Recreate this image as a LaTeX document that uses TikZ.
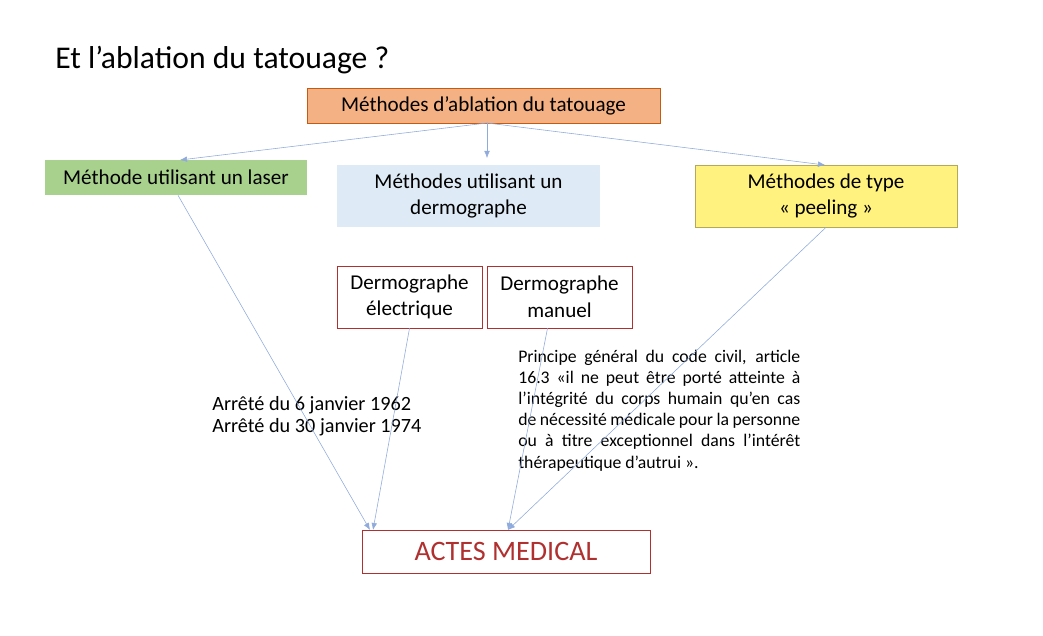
\documentclass[tikz,border=0pt]{standalone}
\usepackage{fontspec}
\setmainfont{Carlito}
\usetikzlibrary{arrows.meta,positioning}
\definecolor{orangefill}{HTML}{F4B183}
\definecolor{orangeline}{HTML}{C55A11}
\definecolor{greenfill}{HTML}{A9D18E}
\definecolor{bluefill}{HTML}{DEEBF7}
\definecolor{yellowfill}{HTML}{FFF27F}
\definecolor{redline}{HTML}{B03030}
\definecolor{arrowblue}{HTML}{8FAADC}
\begin{document}
\begin{tikzpicture}[
  x=0.025cm, y=-0.025cm,
  box/.style={align=center, inner sep=0pt, font=\fontsize{15}{19}\selectfont},
  arr/.style={-{Latex[length=5pt,width=4pt]}, arrowblue, thin}
]
\useasboundingbox (0,0) rectangle (1043,636);

% Title
\node[anchor=west, inner sep=0pt, font=\fontsize{22.5}{26}\selectfont] (title) at (55,60) {Et l’ablation du tatouage ?};

% Boxes
\node[box, draw=orangeline, fill=orangefill, minimum width=353*0.025cm, minimum height=35*0.025cm] (methods) at (483.5,105.5) {Méthodes d’ablation du tatouage};
\node[box, fill=greenfill, minimum width=262*0.025cm, minimum height=35*0.025cm] (laser) at (176,177.5) {Méthode utilisant un laser};
\node[box, fill=bluefill, minimum width=263*0.025cm, minimum height=62*0.025cm] (dermo) at (468.5,196) {Méthodes utilisant un\\dermographe};
\node[box, draw=yellowfill!70!black, fill=yellowfill, minimum width=262*0.025cm, minimum height=62*0.025cm] (peeling) at (826,196) {Méthodes de type\\« peeling »};
\node[box, draw=redline, minimum width=145*0.025cm, minimum height=62*0.025cm] (elec) at (409.5,297) {Dermographe\\électrique};
\node[box, draw=redline, minimum width=145*0.025cm, minimum height=62*0.025cm] (manuel) at (559.5,297) {Dermographe\\manuel};
\node[box, draw=redline, text=redline, font=\fontsize{20}{24}\selectfont, minimum width=288*0.025cm, minimum height=43*0.025cm] (actes) at (506,551.5) {ACTES MEDICAL};

% Texts
\node[anchor=north west, align=left, inner sep=0pt, font=\fontsize{14.4}{15.8}\selectfont] (arretes) at (212,396) {Arrêté du 6 janvier 1962\\Arrêté du 30 janvier 1974};
\node[anchor=north west, inner sep=0pt, text width=282*0.025cm, align=justify, font=\fontsize{12.6}{15}\selectfont] (civil) at (518,350) {Principe général du code civil, article 16.3 «il ne peut être porté atteinte à l’intégrité du corps humain qu’en cas de nécessité médicale pour la personne ou à titre exceptionnel dans l’intérêt thérapeutique d’autrui ».};

% Arrows
\coordinate (mtop) at (487,123);
\coordinate (lasertop) at (180,160);
\coordinate (dermotop) at (487,158);
\coordinate (peeltop) at (825,165);
\coordinate (actesL1) at (370,530);
\coordinate (actesL2) at (373,530);
\coordinate (actesR) at (508,530);
\draw[arr] (mtop) -- (lasertop);
\draw[arr] (mtop) -- (dermotop);
\draw[arr] (mtop) -- (peeltop);
\draw[arr] (laser.south) ++(2,0) coordinate (lb) (lb) -- (actesL1);
\draw[arr] (elec.south) -- (actesL2);
\draw[arr] (manuel.south) ++(-12,0) coordinate (mb) (mb) -- (actesR);
\draw[arr] (peeling.south) -- (actesR);
\end{tikzpicture}
\end{document}
